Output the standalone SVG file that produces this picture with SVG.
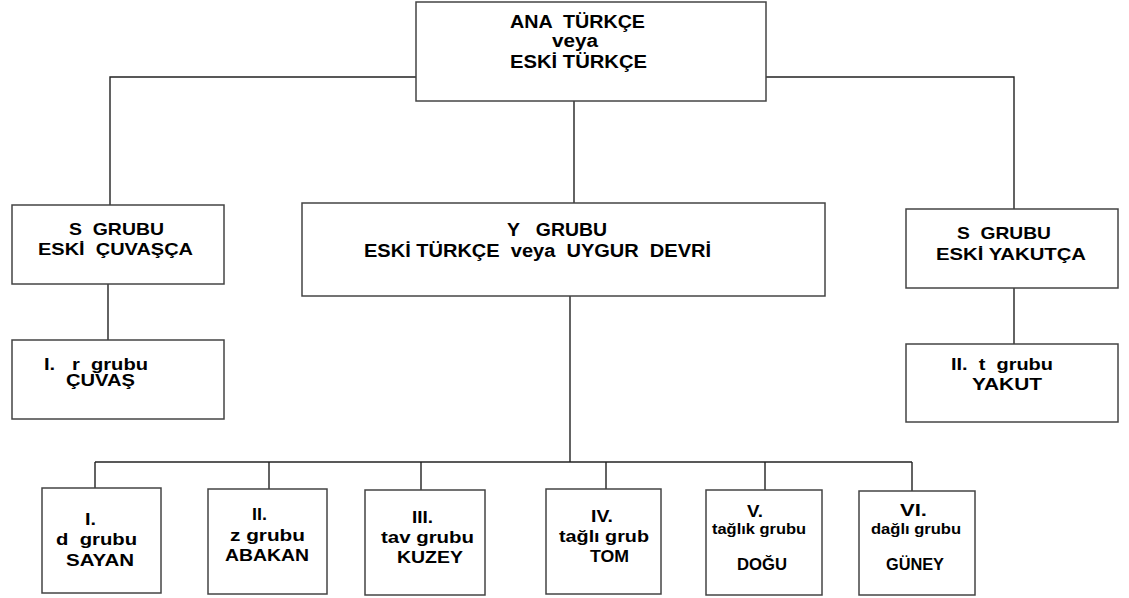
<svg xmlns="http://www.w3.org/2000/svg" width="1129" height="598" viewBox="0 0 1129 598">
<style>
.box{fill:#fff;stroke:#444;stroke-width:1.5}
.ln{fill:none;stroke:#222;stroke-width:1.4}
text{font-family:"Liberation Sans",Arial,sans-serif;font-weight:bold;fill:#000}
.f18{font-size:18px}.f17{font-size:17px}.f16{font-size:16px}.f14{font-size:14.5px}
</style>
<rect width="1129" height="598" fill="#fff"/>
<g id="connectors">
<path class="ln" d="M416,77 H110 V205"/>
<path class="ln" d="M766,77 H1014 V209"/>
<path class="ln" d="M574,101 V203"/>
<path class="ln" d="M108,284 V340"/>
<path class="ln" d="M1014,288 V344"/>
<path class="ln" d="M570,296 V462"/>
<path class="ln" d="M95,462 H912"/>
<path class="ln" d="M95,462 V488 M269,462 V489 M421,462 V490 M606,462 V489 M765,462 V490 M912,462 V491"/>
</g>
<g id="n-ana">
<rect class="box" x="416" y="2" width="350" height="99"/>
<text class="f18" x="510" y="28" textLength="135" lengthAdjust="spacingAndGlyphs" xml:space="preserve">ANA  TÜRKÇE</text>
<text class="f18" x="552" y="47" textLength="46" lengthAdjust="spacingAndGlyphs">veya</text>
<text class="f18" x="510" y="68" textLength="137" lengthAdjust="spacingAndGlyphs">ESKİ TÜRKÇE</text>
</g>
<g id="n-cuvasca">
<rect class="box" x="12" y="205" width="212" height="79"/>
<text class="f17" x="69" y="234.5" textLength="95" lengthAdjust="spacingAndGlyphs" xml:space="preserve">S  GRUBU</text>
<text class="f17" x="38" y="255" textLength="155" lengthAdjust="spacingAndGlyphs" xml:space="preserve">ESKİ  ÇUVAŞÇA</text>
</g>
<g id="n-y">
<rect class="box" x="302" y="203" width="523" height="93"/>
<text class="f18" x="507" y="236" textLength="100" lengthAdjust="spacingAndGlyphs" xml:space="preserve">Y   GRUBU</text>
<text class="f18" x="364" y="257" textLength="347" lengthAdjust="spacingAndGlyphs" xml:space="preserve">ESKİ TÜRKÇE  veya  UYGUR  DEVRİ</text>
</g>
<g id="n-yakutca">
<rect class="box" x="906" y="209" width="212" height="79"/>
<text class="f17" x="957" y="238.5" textLength="94" lengthAdjust="spacingAndGlyphs" xml:space="preserve">S  GRUBU</text>
<text class="f17" x="936" y="259.5" textLength="150" lengthAdjust="spacingAndGlyphs">ESKİ YAKUTÇA</text>
</g>
<g id="n-cuvas">
<rect class="box" x="12" y="340" width="212" height="79"/>
<text class="f16" x="44" y="370" textLength="104" lengthAdjust="spacingAndGlyphs" xml:space="preserve">I.   r  grubu</text>
<text class="f16" x="66" y="386" textLength="69" lengthAdjust="spacingAndGlyphs">ÇUVAŞ</text>
</g>
<g id="n-yakut">
<rect class="box" x="906" y="344" width="212" height="78"/>
<text class="f16" x="951" y="370" textLength="102" lengthAdjust="spacingAndGlyphs" xml:space="preserve">II.  t  grubu</text>
<text class="f16" x="972" y="390" textLength="70" lengthAdjust="spacingAndGlyphs">YAKUT</text>
</g>
<g id="n-sayan">
<rect class="box" x="42" y="488" width="119" height="105"/>
<text class="f17" x="85" y="525" textLength="11" lengthAdjust="spacingAndGlyphs">I.</text>
<text class="f17" x="56" y="545" textLength="81" lengthAdjust="spacingAndGlyphs" xml:space="preserve">d  grubu</text>
<text class="f17" x="66" y="565.5" textLength="68" lengthAdjust="spacingAndGlyphs">SAYAN</text>
</g>
<g id="n-abakan">
<rect class="box" x="208" y="489" width="119" height="105"/>
<text class="f17" x="252" y="520" textLength="15" lengthAdjust="spacingAndGlyphs">II.</text>
<text class="f17" x="230" y="541" textLength="75" lengthAdjust="spacingAndGlyphs">z grubu</text>
<text class="f17" x="225" y="560.5" textLength="84" lengthAdjust="spacingAndGlyphs">ABAKAN</text>
</g>
<g id="n-kuzey">
<rect class="box" x="365" y="490" width="120" height="105"/>
<text class="f17" x="412" y="523" textLength="21" lengthAdjust="spacingAndGlyphs">III.</text>
<text class="f17" x="381" y="543" textLength="93" lengthAdjust="spacingAndGlyphs">tav grubu</text>
<text class="f17" x="397" y="563" textLength="66" lengthAdjust="spacingAndGlyphs">KUZEY</text>
</g>
<g id="n-tom">
<rect class="box" x="546" y="489" width="115" height="105"/>
<text class="f17" x="591" y="522" textLength="22" lengthAdjust="spacingAndGlyphs">IV.</text>
<text class="f17" x="559" y="541.5" textLength="90" lengthAdjust="spacingAndGlyphs">tağlı grub</text>
<text class="f17" x="590" y="561.5" textLength="39" lengthAdjust="spacingAndGlyphs">TOM</text>
</g>
<g id="n-dogu">
<rect class="box" x="706" y="490" width="116" height="105"/>
<text class="f16" x="747" y="516.5" textLength="16" lengthAdjust="spacingAndGlyphs">V.</text>
<text class="f14" x="712" y="534" textLength="94" lengthAdjust="spacingAndGlyphs">tağlık grubu</text>
<text class="f16" x="737" y="569.5" textLength="50" lengthAdjust="spacingAndGlyphs">DOĞU</text>
</g>
<g id="n-guney">
<rect class="box" x="859" y="491" width="116" height="104"/>
<text class="f16" x="900" y="516" textLength="27" lengthAdjust="spacingAndGlyphs">VI.</text>
<text class="f14" x="871" y="534" textLength="90" lengthAdjust="spacingAndGlyphs">dağlı grubu</text>
<text class="f16" x="886" y="569.5" textLength="58" lengthAdjust="spacingAndGlyphs">GÜNEY</text>
</g>
</svg>
